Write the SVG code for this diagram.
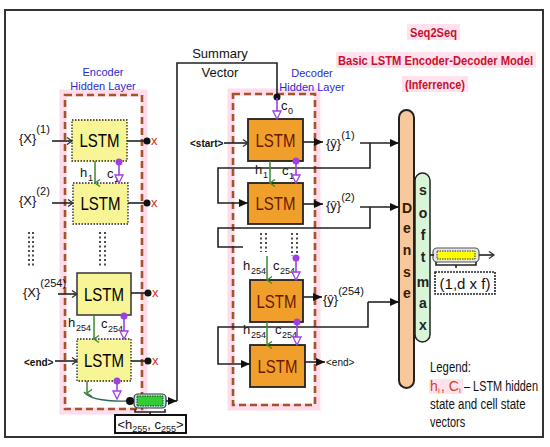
<svg xmlns="http://www.w3.org/2000/svg" width="550" height="447" viewBox="0 0 550 447">
<style>
text{font-family:"Liberation Sans",Arial,sans-serif;}
.lstm{font-size:19px;text-anchor:middle;}
.enc{fill:#f8f596;stroke:#222;stroke-width:1.3;stroke-dasharray:1.5,1.5;}
.enc3{fill:#f8f596;stroke:#333;stroke-width:1.5;}
.dec{fill:#f0a02a;stroke:#222;stroke-width:1.8;}
.dlt{fill:#6a1800;}
.blk{stroke:#222;stroke-width:1.6;fill:none;}
.grn{stroke:#3d8a2a;stroke-width:1.5;fill:none;}
.pur{stroke:#a040e0;stroke-width:1.6;fill:none;}
.dash{fill:none;stroke:#a4532a;stroke-width:2.6;stroke-dasharray:7,4;}
.glow{fill:none;stroke:#ffdcec;stroke-width:7;}
.lab{font-size:13px;fill:#111;}
.sub{font-size:9px;fill:#111;}
.blue{font-size:11px;fill:#2a2ad0;text-anchor:middle;}
.red{fill:#d03020;font-size:13px;}
.title{font-size:12px;font-weight:bold;fill:#c8102e;}
.vl{font-size:14px;font-weight:bold;text-anchor:middle;}
.leg{font-size:14px;fill:#111;}
.lr{font-size:14px;fill:#d04020;}
.lrs{font-size:8px;fill:#d04020;}
</style>
<defs>
<marker id="open" markerWidth="8" markerHeight="8" refX="6" refY="4" orient="auto" markerUnits="userSpaceOnUse"><path d="M1,0.5 L6,4 L1,7.5" fill="none" stroke="#333" stroke-width="1.3"/></marker>
<marker id="fill" markerWidth="10" markerHeight="10" refX="9" refY="5" orient="auto" markerUnits="userSpaceOnUse"><path d="M0,1 L9,5 L0,9 Z" fill="#111"/></marker>
<marker id="gr" markerWidth="8" markerHeight="8" refX="4" refY="6" orient="auto-start-reverse" markerUnits="userSpaceOnUse"><path d="M0.5,1 L4,6 L7.5,1" fill="none" stroke="#3d8a2a" stroke-width="1.3"/></marker>
<marker id="pt" markerWidth="10" markerHeight="10" refX="9" refY="5" orient="auto" markerUnits="userSpaceOnUse"><path d="M1,1 L9,5 L1,9 Z" fill="#fff" stroke="#a040e0" stroke-width="1.3"/></marker>
</defs>
<rect x="0" y="0" width="550" height="447" fill="#fff"/>
<rect x="5" y="10" width="538" height="427" fill="none" stroke="#333" stroke-width="2"/>

<!-- Titles -->
<g id="title">
<rect x="407" y="24" width="53" height="16" fill="#ffe2ee"/>
<rect x="336" y="52" width="200" height="16" fill="#ffe2ee"/>
<rect x="402" y="76" width="66" height="16" fill="#ffe2ee"/>
<text class="title" x="410" y="37" textLength="47" lengthAdjust="spacingAndGlyphs">Seq2Seq</text>
<text class="title" x="338" y="65" textLength="195" lengthAdjust="spacingAndGlyphs">Basic LSTM Encoder-Decoder Model</text>
<text class="title" x="405" y="89" textLength="60" lengthAdjust="spacingAndGlyphs">(Inferrence)</text>
</g>

<!-- Encoder frame -->
<g id="encoder-layer">
<rect class="glow" x="63" y="93" width="81" height="318"/>
<rect class="dash" x="65" y="95" width="77" height="314"/>
<text class="blue" x="103" y="76">Encoder</text>
<text class="blue" x="103" y="90">Hidden Layer</text>
</g>

<!-- Decoder frame -->
<g id="decoder-layer">
<rect class="glow" x="231" y="92" width="86" height="315"/>
<rect class="dash" x="233" y="94" width="82" height="311"/>
<text class="blue" x="312" y="77">Decoder</text>
<text class="blue" x="312" y="91">Hidden Layer</text>
</g>

<!-- Encoder nodes -->
<g id="enc1"><rect class="enc" x="72" y="120" width="55" height="41"/><text class="lstm" x="99.5" y="147" textLength="40" lengthAdjust="spacingAndGlyphs">LSTM</text></g>
<g id="enc2"><rect class="enc" x="73" y="183" width="55" height="41"/><text class="lstm" x="100.5" y="210" textLength="40" lengthAdjust="spacingAndGlyphs">LSTM</text></g>
<g id="enc3"><rect class="enc3" x="77" y="273" width="54" height="42"/><text class="lstm" x="104" y="301" textLength="40" lengthAdjust="spacingAndGlyphs">LSTM</text></g>
<g id="enc4"><rect class="enc" x="77" y="339" width="54" height="42"/><text class="lstm" x="104" y="367" textLength="40" lengthAdjust="spacingAndGlyphs">LSTM</text></g>

<!-- Decoder nodes -->
<g id="dec1"><rect class="dec" x="248" y="119" width="55" height="42"/><text class="lstm dlt" x="275.5" y="147" textLength="40" lengthAdjust="spacingAndGlyphs">LSTM</text></g>
<g id="dec2"><rect class="dec" x="248" y="183" width="55" height="41"/><text class="lstm dlt" x="275.5" y="210" textLength="40" lengthAdjust="spacingAndGlyphs">LSTM</text></g>
<g id="dec3"><rect class="dec" x="250" y="280" width="53" height="42"/><text class="lstm dlt" x="276.5" y="308" textLength="40" lengthAdjust="spacingAndGlyphs">LSTM</text></g>
<g id="dec4"><rect class="dec" x="250" y="345" width="55" height="42"/><text class="lstm dlt" x="277.5" y="373" textLength="40" lengthAdjust="spacingAndGlyphs">LSTM</text></g>

<!-- Dense & softmax -->
<g id="dense">
<rect x="399" y="110" width="15" height="278" rx="7.5" fill="#f7c89b" stroke="#222" stroke-width="2"/>
<text class="vl" x="407" y="213" fill="#3a1a00" font-size="16">D</text>
<text class="vl" x="407" y="233" fill="#3a1a00">e</text>
<text class="vl" x="407" y="255" fill="#3a1a00">n</text>
<text class="vl" x="407" y="277" fill="#3a1a00">s</text>
<text class="vl" x="407" y="298" fill="#3a1a00">e</text>
</g>
<g id="softmax">
<rect x="415" y="173" width="15" height="169" rx="7.5" fill="#d8f5d8" stroke="#222" stroke-width="1.5"/>
<text class="vl" x="423" y="195" fill="#222">s</text>
<text class="vl" x="423" y="218" fill="#222">o</text>
<text class="vl" x="423" y="240" fill="#222">f</text>
<text class="vl" x="423" y="262" fill="#222">t</text>
<text class="vl" x="423" y="287" fill="#222">m</text>
<text class="vl" x="423" y="308" fill="#222">a</text>
<text class="vl" x="423" y="330" fill="#222">x</text>
</g>

<!-- Output vector -->
<g id="output">
<rect x="433" y="248" width="46" height="14" rx="4" fill="#e6e6e6" stroke="#555" stroke-width="1.2"/>
<rect x="437" y="251" width="38" height="8" fill="#ffff00" stroke="#333" stroke-width="1" stroke-dasharray="1.5,1"/>
<path class="blk" d="M436,262 v3 h20 v3 M456,265 h20 v-3" stroke-width="1"/>
<rect x="435" y="272" width="60" height="22" fill="#fff" stroke="#222" stroke-width="1.6" stroke-dasharray="2,1"/>
<text x="465" y="289" font-size="15" text-anchor="middle" fill="#111">(1,d x f)</text>
</g>

<!-- Encoder summary bar -->
<g id="summary-bar">
<rect x="134" y="394" width="32" height="14" rx="4" fill="#b8f0f0" stroke="#333" stroke-width="1.2"/>
<rect x="137" y="396" width="26" height="10" fill="#33cc33" stroke="#333" stroke-width="1" stroke-dasharray="1.5,1"/>
<path class="blk" d="M135,409 v3 h15 v3 M150,412 h15 v-3" stroke-width="1"/>
<rect x="115" y="415" width="71" height="18" fill="#fff" stroke="#111" stroke-width="2"/>
<text x="150.5" y="429" font-size="13" text-anchor="middle" fill="#111">&lt;h<tspan font-size="9" dy="3">255</tspan><tspan dy="-3">, c</tspan><tspan font-size="9" dy="3">255</tspan><tspan dy="-3">&gt;</tspan></text>
</g>

<!-- Labels -->
<g id="labels">
<text class="lab" x="19" y="143" font-size="18">{X}<tspan font-size="11" dy="-10">(1)</tspan></text>
<text class="lab" x="19" y="205" font-size="18">{X}<tspan font-size="11" dy="-10">(2)</tspan></text>
<text class="lab" x="23" y="297" font-size="18">{X}<tspan font-size="11" dy="-10">(254)</tspan></text>
<text x="24" y="366" font-size="10" font-weight="bold" fill="#111">&lt;end&gt;</text>
<text x="190" y="147" font-size="10" font-weight="bold" fill="#111">&lt;start&gt;</text>
<text x="326" y="366" font-size="10" fill="#111">&lt;end&gt;</text>

<text class="red" x="151" y="145">x</text>
<text class="red" x="151" y="207">x</text>
<text class="red" x="152" y="297">x</text>
<text class="red" x="152" y="365">x</text>

<text class="lab" x="80" y="177">h</text><text class="sub" x="88" y="181">1</text>
<text class="lab" x="107" y="178">c</text><text class="sub" x="114" y="182">1</text>
<text class="lab" x="68" y="327">h</text><text class="sub" x="76" y="331">254</text>
<text class="lab" x="101" y="328">c</text><text class="sub" x="108" y="332">254</text>

<text class="lab" x="255" y="174">h</text><text class="sub" x="263" y="178">1</text>
<text class="lab" x="282" y="175">c</text><text class="sub" x="289" y="179">1</text>
<text class="lab" x="243" y="270">h</text><text class="sub" x="251" y="274">254</text>
<text class="lab" x="273" y="270">c</text><text class="sub" x="280" y="274">254</text>
<text class="lab" x="243" y="334">h</text><text class="sub" x="251" y="338">254</text>
<text class="lab" x="275" y="334">c</text><text class="sub" x="282" y="338">254</text>
<text class="lab" x="281" y="110">c</text><text class="sub" x="288" y="114">0</text>

<text class="lab" x="220" y="58" text-anchor="middle">Summary</text>
<text class="lab" x="220" y="77" text-anchor="middle">Vector</text>

<text class="lab" x="326" y="148" font-size="18">{ŷ}<tspan font-size="11" dy="-9">(1)</tspan></text>
<text class="lab" x="326" y="210" font-size="18">{ŷ}<tspan font-size="11" dy="-9">(2)</tspan></text>
<text class="lab" x="323" y="304" font-size="18">{ŷ}<tspan font-size="11" dy="-9">(254)</tspan></text>

<rect x="429" y="379" width="34" height="15" fill="#ffe2ee"/>
<text class="leg" x="430" y="372" textLength="41" lengthAdjust="spacingAndGlyphs">Legend:</text>
<text class="lr" x="430" y="391">h</text><text class="lrs" x="438" y="393">i</text>
<text class="lr" x="441" y="391">, C</text><text class="lrs" x="459" y="393">i</text>
<text class="leg" transform="translate(464,391) scale(0.78,1)" x="0" y="0">– LSTM hidden</text>
<text class="leg" transform="translate(430,409) scale(0.82,1)" x="0" y="0">state and cell state</text>
<text class="leg" transform="translate(430,427) scale(0.78,1)" x="0" y="0">vectors</text>
</g>

<!-- Connectors -->
<g id="connectors">
<!-- encoder inputs -->
<line class="blk" x1="52" y1="141" x2="72" y2="141" marker-end="url(#open)"/>
<line class="blk" x1="52" y1="203" x2="73" y2="203" marker-end="url(#open)"/>
<line class="blk" x1="58" y1="294" x2="77" y2="294" marker-end="url(#open)"/>
<line class="blk" x1="55" y1="361" x2="77" y2="361" marker-end="url(#open)"/>
<!-- encoder outputs -->
<line class="blk" x1="127" y1="141" x2="146" y2="141"/><circle cx="147" cy="141" r="3.5" fill="#111"/>
<line class="blk" x1="128" y1="203" x2="146" y2="203"/><circle cx="147" cy="203" r="3.5" fill="#111"/>
<line class="blk" x1="131" y1="293" x2="147" y2="293"/><circle cx="148" cy="293" r="3.5" fill="#111"/>
<line class="blk" x1="131" y1="361" x2="147" y2="361"/><circle cx="148" cy="361" r="3.5" fill="#111"/>
<!-- encoder state transitions -->
<line class="grn" x1="95" y1="161" x2="95" y2="183" marker-end="url(#gr)"/>
<line class="pur" x1="119" y1="162" x2="119" y2="183" marker-end="url(#pt)"/><circle cx="119" cy="162" r="3.5" fill="#a040e0"/>
<line class="grn" x1="94" y1="315" x2="94" y2="339" marker-end="url(#gr)"/>
<line class="pur" x1="124" y1="316" x2="124" y2="339" marker-end="url(#pt)"/><circle cx="124" cy="316" r="3.5" fill="#a040e0"/>
<line class="grn" x1="87" y1="381" x2="87" y2="393" marker-end="url(#gr)"/>
<line class="pur" x1="117" y1="381" x2="117" y2="399" marker-end="url(#pt)"/><circle cx="117" cy="381" r="3.5" fill="#a040e0"/>
<path d="M84,392 Q92,402 128,401" fill="none" stroke="#2a6a5a" stroke-width="1.3"/>
<circle cx="130" cy="401" r="4" fill="#111"/>
<!-- dots -->
<g stroke="#222" stroke-width="1.6" stroke-dasharray="2,2.5">
<line x1="29" y1="232" x2="29" y2="266"/><line x1="33" y1="232" x2="33" y2="266"/>
<line x1="100" y1="232" x2="100" y2="266"/><line x1="105" y1="232" x2="105" y2="266"/>
<line x1="261" y1="233" x2="261" y2="252"/><line x1="266" y1="233" x2="266" y2="252"/>
<line x1="292" y1="233" x2="292" y2="256"/><line x1="297" y1="233" x2="297" y2="256"/>
</g>
<!-- summary vector -->
<line class="blk" x1="166" y1="401" x2="177" y2="401" marker-end="url(#fill)"/>
<polyline class="blk" points="177,401 177,63 277,63 277,97"/>
<circle cx="277" cy="97" r="3.5" fill="#111"/>
<line class="pur" x1="277" y1="98" x2="277" y2="119" marker-end="url(#pt)"/>
<!-- decoder inputs -->
<line class="blk" x1="224" y1="143" x2="248" y2="143" marker-end="url(#open)"/>
<!-- decoder outputs -->
<line class="blk" x1="303" y1="142" x2="323" y2="142" marker-end="url(#fill)"/>
<line class="blk" x1="303" y1="204" x2="323" y2="204" marker-end="url(#fill)"/>
<line class="blk" x1="303" y1="297" x2="322" y2="297" marker-end="url(#fill)"/>
<line class="blk" x1="305" y1="362" x2="325" y2="362" marker-end="url(#fill)"/>
<!-- to dense -->
<line class="blk" x1="360" y1="143" x2="399" y2="143" marker-end="url(#fill)"/>
<line class="blk" x1="360" y1="207" x2="399" y2="207" marker-end="url(#fill)"/>
<line class="blk" x1="368" y1="302" x2="399" y2="302" marker-end="url(#fill)"/>
<!-- feedback loops -->
<polyline class="blk" points="370,143 370,168 218,168 218,203 248,203" marker-end="url(#fill)"/>
<polyline class="blk" points="370,207 370,228 218,228 218,247 243,247"/>
<polyline class="blk" points="368,302 368,327 218,327 218,364 250,364" marker-end="url(#fill)"/>
<!-- decoder state transitions -->
<line class="grn" x1="270" y1="161" x2="270" y2="183" marker-end="url(#gr)"/>
<line class="pur" x1="296" y1="161" x2="296" y2="183" marker-end="url(#pt)"/><circle cx="296" cy="161" r="3.5" fill="#a040e0"/>
<line class="grn" x1="267" y1="256" x2="267" y2="280" marker-end="url(#gr)"/>
<line class="pur" x1="296" y1="258" x2="296" y2="280" marker-end="url(#pt)"/><circle cx="296" cy="258" r="3.5" fill="#a040e0"/>
<line class="grn" x1="267" y1="322" x2="267" y2="345" marker-end="url(#gr)"/>
<line class="pur" x1="297" y1="322" x2="297" y2="345" marker-end="url(#pt)"/><circle cx="297" cy="322" r="3.5" fill="#a040e0"/>
<!-- softmax to output -->
<line class="blk" x1="430" y1="255" x2="434" y2="255" stroke-width="1"/>
<line class="blk" x1="479" y1="255" x2="494" y2="255" stroke-width="1.3" marker-end="url(#open)"/>
</g>
</svg>
